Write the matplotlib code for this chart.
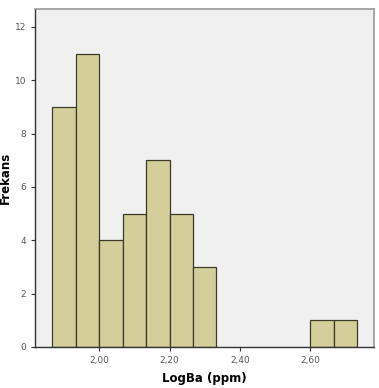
import numpy as np
import matplotlib
matplotlib.use('Agg')
import matplotlib.pyplot as plt

# Histogram data (LogBa, ppm)
bin_edges = [1.8667, 1.9333, 2.0000, 2.0667, 2.1333, 2.2000, 2.2667, 2.3333,
             2.4000, 2.4667, 2.5333, 2.6000, 2.6667, 2.7333]
counts = [9, 11, 4, 5, 7, 5, 3, 0, 0, 0, 0, 1, 1]
x_ticks = [2.00, 2.20, 2.40, 2.60]
x_tick_labels = ['2,00', '2,20', '2,40', '2,60']
y_ticks = [0, 2, 4, 6, 8, 10, 12]

fig = plt.figure(figsize=(3.79, 3.88), dpi=100)
ax = fig.add_axes([0.0923, 0.1057, 0.8945, 0.8711])
ax.set_facecolor('#f0f0f0')

lefts = np.array(bin_edges[:-1])
widths = np.diff(bin_edges)
heights = np.array(counts)
keep = heights > 0
ax.bar(lefts[keep], heights[keep], width=widths[keep], align='edge',
       color='#d4cf9a', edgecolor='#3b3a28', linewidth=0.9)

ax.set_xlim(1.817, 2.7815)
ax.set_ylim(0, 12.67)
ax.set_xticks(x_ticks)
ax.set_xticklabels(x_tick_labels)
ax.set_yticks(y_ticks)
ax.tick_params(axis='both', labelsize=6.5, labelcolor='#555555', color='#333333',
               length=3, width=0.8, direction='out')

for side in ['left', 'bottom']:
    ax.spines[side].set_color('#333333')
    ax.spines[side].set_linewidth(1.0)
for side in ['top', 'right']:
    ax.spines[side].set_color('#999999')
    ax.spines[side].set_linewidth(1.2)

ax.set_xlabel('LogBa (ppm)', fontsize=8.5, fontweight='bold', labelpad=5)
ax.set_ylabel('Frekans', fontsize=8.5, fontweight='bold')
ax.yaxis.set_label_coords(-0.068, 0.5)

fig.savefig('out.png', dpi=100)
